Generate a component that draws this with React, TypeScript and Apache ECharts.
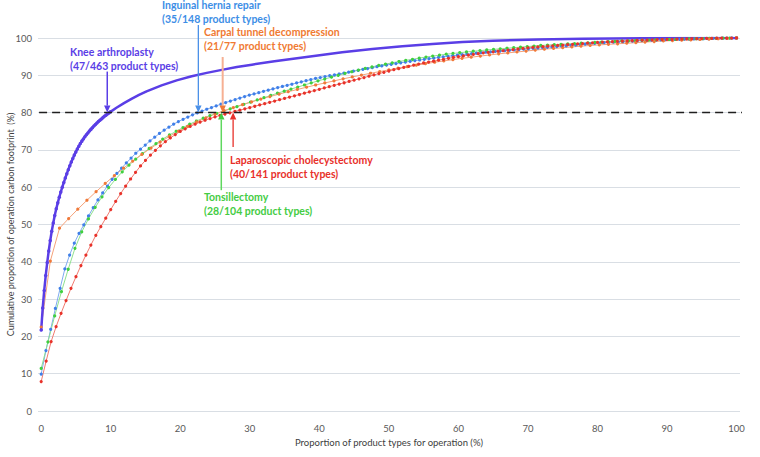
import React, { useEffect, useRef } from "react";
import * as echarts from "echarts";

// ---------- data ----------
const xTickLabels = [0, 10, 20, 30, 40, 50, 60, 70, 80, 90, 100];
const threshold = 80;

// Knee arthroplasty: 463 product types; [product index (0-based), cumulative %]
const kneeTotal = 463;
const kneePoints: [number, number][] = [
  [0, 21.7], [1, 27.6], [2, 32.3], [3, 36.3], [4, 39.8], [5, 42.9], [6, 45.7], [7, 48.2], [8, 50.4], [9, 52.4],
  [10, 54.2], [11, 55.8], [12, 57.3], [13, 58.7], [14, 60.0], [15, 61.25], [16, 62.45], [17, 63.6], [18, 64.7], [19, 65.75],
  [20, 66.75], [21, 67.7], [22, 68.6], [23, 69.45], [24, 70.25], [25, 71.0], [26, 71.7], [27, 72.35], [28, 72.95], [29, 73.5],
  [30, 74.05], [31, 74.55], [32, 75.05], [33, 75.5], [34, 75.95], [35, 76.4], [36, 76.8], [37, 77.2], [38, 77.6], [39, 77.95],
  [40, 78.3], [41, 78.65], [42, 79.0], [43, 79.3], [44, 79.6], [45, 79.9], [46, 80.2],
  [50, 81.3], [55, 82.55], [60, 83.7], [65, 84.75], [70, 85.7], [80, 87.3], [90, 88.65], [100, 89.75],
  [110, 90.65], [120, 91.45], [130, 92.2], [140, 92.85], [155, 93.75], [170, 94.6], [185, 95.4], [200, 96.15],
  [220, 97.05], [240, 97.8], [260, 98.4], [280, 98.9], [300, 99.25], [330, 99.6], [360, 99.8], [400, 99.93],
  [430, 99.98], [462, 100],
];

// Inguinal hernia repair: 148 product types
const inguinalCum = [
  9.9, 16.2, 21.9, 27.5, 32.9, 38.1, 41.8, 45.0, 47.6, 49.9,
  52.3, 54.5, 56.6, 58.5, 60.3, 62.1, 63.7, 65.1, 66.5, 67.8,
  69.1, 70.2, 71.3, 72.4, 73.4, 74.4, 75.3, 76.1, 76.9, 77.6,
  78.2, 78.8, 79.4, 79.9, 80.4, 80.9, 81.35, 81.8, 82.25, 82.7,
  83.1, 83.5, 83.9, 84.3, 84.7, 85.0, 85.35, 85.7, 86.0, 86.35,
  86.7, 87.0, 87.3, 87.6, 87.95, 88.25, 88.55, 88.85, 89.15, 89.4,
  89.65, 89.9, 90.1, 90.35, 90.6, 90.85, 91.1, 91.35, 91.6, 91.8,
  92.05, 92.3, 92.5, 92.75, 92.95, 93.15, 93.35, 93.55, 93.75, 93.95,
  94.1, 94.3, 94.45, 94.6, 94.8, 94.95, 95.1, 95.25, 95.4, 95.55,
  95.7, 95.8, 95.95, 96.05, 96.2, 96.3, 96.4, 96.5, 96.6, 96.7,
  96.8, 96.9, 97.0, 97.1, 97.2, 97.3, 97.4, 97.5, 97.6, 97.7,
  97.8, 97.9, 98.0, 98.1, 98.2, 98.35, 98.45, 98.55, 98.65, 98.75,
  98.8, 98.9, 98.95, 99.0, 99.1, 99.15, 99.2, 99.3, 99.35, 99.4,
  99.45, 99.5, 99.55, 99.6, 99.6, 99.65, 99.7, 99.7, 99.75, 99.8,
  99.8, 99.85, 99.9, 99.9, 99.95, 99.95, 100, 100,
];

// Carpal tunnel decompression: 77 product types
const carpalCum = [
  22.5, 40.2, 49.0, 51.6, 54.1, 56.5, 58.8, 61.0, 63.1, 65.1,
  67.0, 68.8, 70.5, 72.1, 73.6, 75.0, 76.3, 77.5, 78.6, 79.6,
  80.5, 81.35, 82.15, 82.9, 83.6, 84.3, 84.95, 85.6, 86.2, 86.8,
  87.4, 87.95, 88.5, 89.05, 89.55, 90.05, 90.55, 91.0, 91.45, 91.9,
  92.3, 92.7, 93.1, 93.5, 93.85, 94.2, 94.55, 94.85, 95.15, 95.45,
  95.75, 96.0, 96.25, 96.5, 96.75, 97.0, 97.2, 97.4, 97.6, 97.8,
  98.0, 98.15, 98.3, 98.45, 98.6, 98.75, 98.9, 99.05, 99.2, 99.3,
  99.4, 99.5, 99.6, 99.7, 99.8, 99.9, 100,
];

// Tonsillectomy: 104 product types
const tonsilCum = [
  11.4, 18.5, 25.5, 32.0, 38.0, 43.6, 48.0, 51.5, 54.6, 57.4,
  59.9, 62.1, 64.1, 65.9, 67.5, 69.0, 70.4, 71.7, 72.9, 74.0,
  75.0, 76.0, 76.9, 77.75, 78.5, 79.2, 79.8, 80.4, 81.0, 81.6,
  82.2, 82.8, 83.4, 84.0, 84.6, 85.2, 85.75, 86.3, 86.85, 87.4,
  87.95, 88.5, 89.0, 89.5, 90.0, 90.5, 90.95, 91.4, 91.85, 92.25,
  92.65, 93.0, 93.35, 93.7, 94.0, 94.3, 94.6, 94.9, 95.15, 95.4,
  95.65, 95.85, 96.05, 96.25, 96.45, 96.6, 96.8, 96.95, 97.1, 97.25,
  97.4, 97.55, 97.7, 97.85, 98.0, 98.1, 98.2, 98.3, 98.4, 98.5,
  98.6, 98.7, 98.8, 98.9, 99.0, 99.1, 99.2, 99.25, 99.3, 99.4,
  99.45, 99.5, 99.55, 99.6, 99.65, 99.7, 99.75, 99.8, 99.85, 99.9,
  99.93, 99.96, 99.98, 100,
];

// Laparoscopic cholecystectomy: 141 product types
const lapCum = [
  7.9, 13.4, 18.6, 22.6, 26.2, 29.6, 32.9, 36.0, 39.0, 41.8,
  44.5, 47.1, 49.4, 51.7, 54.0, 56.2, 58.3, 60.3, 62.2, 64.0,
  65.7, 67.2, 68.6, 69.9, 71.1, 72.2, 73.2, 74.1, 74.95, 75.65,
  76.3, 76.9, 77.45, 77.95, 78.4, 78.85, 79.25, 79.6, 79.95, 80.3,
  80.65, 81.0, 81.35, 81.7, 82.05, 82.4, 82.75, 83.1, 83.45, 83.8,
  84.15, 84.5, 84.85, 85.2, 85.55, 85.9, 86.25, 86.6, 86.95, 87.3,
  87.65, 88.0, 88.35, 88.7, 89.05, 89.4, 89.75, 90.1, 90.45, 90.8,
  91.15, 91.5, 91.8, 92.1, 92.4, 92.7, 93.0, 93.3, 93.55, 93.8,
  94.05, 94.3, 94.55, 94.8, 95.0, 95.2, 95.4, 95.6, 95.8, 96.0,
  96.15, 96.3, 96.45, 96.6, 96.75, 96.9, 97.05, 97.2, 97.35, 97.5,
  97.6, 97.7, 97.8, 97.9, 98.0, 98.1, 98.2, 98.3, 98.4, 98.5,
  98.6, 98.7, 98.8, 98.9, 98.95, 99.0, 99.1, 99.15, 99.2, 99.3,
  99.35, 99.4, 99.45, 99.5, 99.55, 99.6, 99.63, 99.66, 99.7, 99.73,
  99.76, 99.8, 99.83, 99.86, 99.9, 99.92, 99.95, 99.97, 99.98, 99.99,
  100,
];

// annotation texts
const labels = [
  { lines: ["Inguinal hernia repair", "(35/148 product types)"], color: "#3d8ee6", x: 162, y: 5 },
  { lines: ["Carpal tunnel decompression", "(21/77 product types)"], color: "#f07a32", x: 204, y: 32 },
  { lines: ["Knee arthroplasty", "(47/463 product types)"], color: "#5a3ee6", x: 70, y: 52 },
  { lines: ["Laparoscopic cholecystectomy", "(40/141 product types)"], color: "#e8302a", x: 230, y: 160 },
  { lines: ["Tonsillectomy", "(28/104 product types)"], color: "#44cc44", x: 204, y: 197 },
];

// arrows in data units: x position, start value, tip value
const arrows = [
  { x: 9.5, from: 91.0, to: 80, line: "#5a3ee6", head: "#5a3ee6", width: 1.5 },
  { x: 22.6, from: 103.5, to: 80, line: "#4a90e8", head: "#4a90e8", width: 1.3 },
  { x: 26.1, from: 94.9, to: 80, line: "#f6b093", head: "#f07a3a", width: 2 },
  { x: 25.9, from: 59.2, to: 80, line: "#5fd85f", head: "#44cc44", width: 1.5 },
  { x: 27.6, from: 70.8, to: 80, line: "#e8302a", head: "#e8302a", width: 1.3 },
];

const FONT = "Lato, 'Open Sans', sans-serif";

function toXY(vals: number[]) {
  return vals.map((v, i) => [(i / (vals.length - 1)) * 100, v]);
}

function lineSeries(name: string, vals: number[], lineColor: string, markColor: string) {
  return {
    type: "line",
    name,
    data: toXY(vals),
    symbol: "circle",
    symbolSize: 3.2,
    lineStyle: { color: lineColor, width: 1 },
    itemStyle: { color: markColor },
    emphasis: { disabled: true },
    silent: true,
  };
}

export default function App() {
  const ref = useRef<HTMLDivElement>(null);

  useEffect(() => {
    if (!ref.current) return;
    const chart = echarts.init(ref.current, undefined, { renderer: "svg" });

    const kneeData = kneePoints.map(([i, v]) => {
      const item: any = { value: [(i / (kneeTotal - 1)) * 100, v] };
      if (i > 46) item.symbol = "none";
      return item;
    });

    const option: any = {
      animation: false,
      backgroundColor: "#ffffff",
      grid: { left: 38, right: 20, top: 38, bottom: 46, outerBoundsMode: "none", containLabel: false },
      xAxis: {
        type: "value",
        min: -0.46,
        max: 100.5,
        name: "Proportion of product types for operation (%)",
        nameLocation: "middle",
        nameGap: 26,
        nameMoveOverlap: false,
        nameTextStyle: { color: "#404040", fontSize: 9.5, fontFamily: FONT },
        axisLine: { show: false },
        axisTick: { show: false },
        splitLine: { show: false },
        axisLabel: {
          customValues: xTickLabels,
          color: "#595959",
          fontSize: 9.5,
          fontFamily: FONT,
          margin: 12,
        },
      },
      yAxis: {
        type: "value",
        min: 0,
        max: 100,
        interval: 10,
        name: "Cumulative proportion of operation carbon footprint  (%)",
        nameLocation: "middle",
        nameGap: 23,
        nameMoveOverlap: false,
        nameTextStyle: { color: "#404040", fontSize: 9, fontFamily: FONT },
        axisLine: { show: false },
        axisTick: { show: false },
        splitLine: { lineStyle: { color: "#d9dee4", width: 1 } },
        axisLabel: { color: "#595959", fontSize: 9.5, fontFamily: FONT, margin: 6 },
      },
      series: [
        lineSeries("Inguinal hernia repair", inguinalCum, "#7eaaf0", "#3f7fe8"),
        lineSeries("Tonsillectomy", tonsilCum, "#8fe08f", "#3fcf3f"),
        lineSeries("Carpal tunnel decompression", carpalCum, "#f5a27a", "#f07a3a"),
        lineSeries("Laparoscopic cholecystectomy", lapCum, "#f07a70", "#e8322a"),
        {
          type: "line",
          name: "Knee arthroplasty",
          data: kneeData,
          symbol: "circle",
          symbolSize: 3.5,
          lineStyle: { color: "#5a3ee6", width: 2.5 },
          itemStyle: { color: "#5a3ee6" },
          emphasis: { disabled: true },
          silent: true,
          z: 3,
        },
        {
          type: "line",
          name: "80% threshold",
          data: [[-0.3, threshold], [101.6, threshold]],
          symbol: "none",
          clip: false,
          silent: true,
          lineStyle: { color: "#1f1f1f", width: 1.5, type: [8, 5] },
          z: 4,
        },
      ],
    };

    chart.setOption(option);

    const graphics: any[] = [];
    labels.forEach((l) => {
      l.lines.forEach((t, k) => {
        graphics.push({
          type: "text",
          z: 100,
          style: {
            text: t,
            x: l.x,
            y: l.y + k * 14,
            fill: l.color,
            fontSize: 10.5,
            fontWeight: "bold",
            fontFamily: FONT,
            textVerticalAlign: "middle",
            textAlign: "left",
          },
        });
      });
    });

    arrows.forEach((a) => {
      const p0 = chart.convertToPixel({ gridIndex: 0 }, [a.x, a.from]) as number[];
      const p1 = chart.convertToPixel({ gridIndex: 0 }, [a.x, a.to]) as number[];
      const dir = p1[1] > p0[1] ? 1 : -1; // 1 = pointing down
      const headLen = 7;
      const half = 3.2;
      const baseY = p1[1] - dir * headLen;
      graphics.push({
        type: "line",
        z: 90,
        shape: { x1: p0[0], y1: p0[1], x2: p1[0], y2: baseY },
        style: { stroke: a.line, lineWidth: a.width },
      });
      graphics.push({
        type: "polygon",
        z: 91,
        shape: {
          points: [
            [p1[0], p1[1]],
            [p1[0] - half, baseY],
            [p1[0] + half, baseY],
          ],
        },
        style: { fill: a.head },
      });
    });

    chart.setOption({ graphic: graphics });

    return () => chart.dispose();
  }, []);

  return (
    <div
      ref={ref}
      style={{ position: "absolute", left: 0, top: 0, width: 760, height: 457, background: "#fff" }}
    />
  );
}
